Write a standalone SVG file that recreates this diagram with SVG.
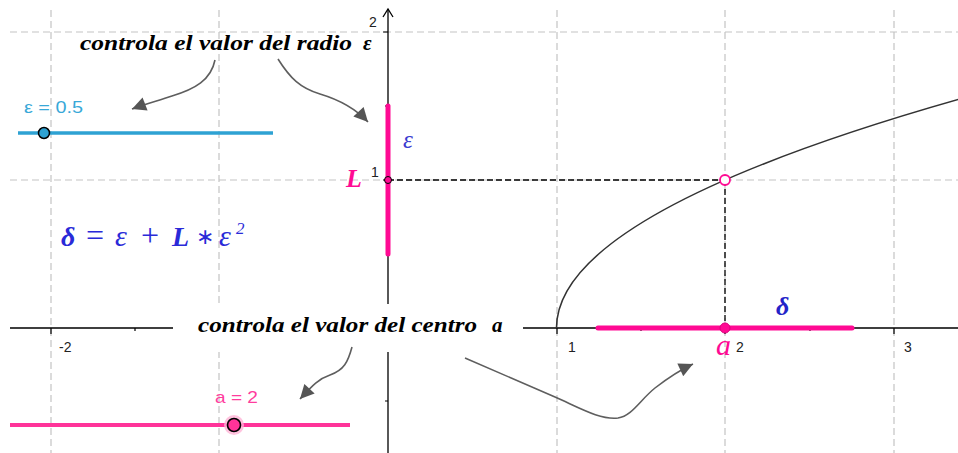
<svg xmlns="http://www.w3.org/2000/svg" width="958" height="453" viewBox="0 0 958 453">
<style>
.grid{stroke:#c4c4c4;stroke-width:1.2;stroke-dasharray:7 4;fill:none}
.axis{stroke:#000;stroke-width:1.3;fill:none}
.tick{stroke:#000;stroke-width:1.2}
.guide{stroke:#000;stroke-width:1.3;stroke-dasharray:6 3;fill:none}
.num{font-family:"Liberation Sans",Arial,sans-serif;font-size:14px;fill:#222}
.note{font-family:"Liberation Serif","Times New Roman",serif;font-size:21px;font-weight:bold;font-style:italic;fill:#000}
.math{font-family:"Liberation Serif","Times New Roman",serif;font-style:italic}
.b{font-weight:bold}
.up{font-style:normal}
.conn{stroke:#5e5e5e;stroke-width:1.6;fill:none}
.seg{stroke:#ff0a93;stroke-width:5;stroke-linecap:round;fill:none}
</style>
<defs>
<marker id="head" viewBox="0 0 10 10" refX="10" refY="5" markerUnits="userSpaceOnUse" markerWidth="15" markerHeight="14" orient="auto">
<path d="M0,0 L10,5 L0,10 z" fill="#555"/>
</marker>
</defs>
<rect width="958" height="453" fill="#fff"/>
<g id="grid">
<path class="grid" d="M10,32 H958 M10,180 H958 M51,10 V453 M219,10 V453 M557,10 V453 M725,10 V453 M894,10 V453"/>
</g>
<g id="axes">
<path class="axis" d="M10,328 H958 M388,9 V453"/>
<path class="axis" d="M383,17 L388,9 L393,17"/>
<path class="tick" d="M51,328 V334 M219,328 V334 M557,328 V334 M725,328 V334 M894,328 V334 M135,328 V331 M303,328 V331 M472,328 V331 M641,328 V331 M810,328 V331 M383,180 H388 M383,32 H388 M385,106 H388 M385,401 H388"/>
<text class="num" x="59" y="352">-2</text>
<text class="num" x="568" y="352">1</text>
<text class="num" x="736" y="352">2</text>
<text class="num" x="904" y="352">3</text>
<text class="num" x="371" y="177">1</text>
<text class="num" x="369" y="27">2</text>
</g>
<g id="curve">
<path d="M556.5,328 Q556.5,213.3 961.3,98.6" fill="none" stroke="#333" stroke-width="1.6"/>
</g>
<g id="guides">
<path class="guide" d="M388,180 H725 M725,180 V328"/>
</g>
<g id="epsilon-segment">
<path class="seg" d="M388,106 V254"/>
<text class="math" x="403" y="148" font-size="25" fill="#3a3ad0">ε</text>
</g>
<g id="delta-segment">
<path class="seg" d="M598,328 H852"/>
<text class="math b" x="776" y="315" font-size="26" fill="#2323c8">δ</text>
</g>
<g id="point-L">
<circle cx="388" cy="180" r="3.5" fill="#ff0a93" stroke="#000" stroke-width="1"/>
<text class="math b" x="346" y="187" font-size="26" fill="#ff0a93">L</text>
</g>
<g id="point-fa">
<circle cx="725" cy="180" r="5" fill="#fff" stroke="#ff0a93" stroke-width="1.8"/>
</g>
<g id="point-a">
<circle cx="725" cy="328" r="5" fill="#ff0a93" stroke="#e00080" stroke-width="1"/>
<text class="math" x="716" y="355" font-size="30" fill="#ff0a93">a</text>
</g>
<g id="formula">
<text class="math" y="246" font-size="28" fill="#2a2ad8"><tspan x="61" class="b">δ</tspan><tspan x="86" class="up" font-size="32">=</tspan><tspan x="115" font-size="30">ε</tspan><tspan x="141" class="up" font-size="32">+</tspan><tspan x="172" class="b">L</tspan><tspan x="196" y="244" class="up" font-size="22">∗</tspan><tspan x="219" y="246" font-size="30">ε</tspan><tspan x="236" y="234" font-size="17">2</tspan></text>
</g>
<g id="slider-epsilon">
<line x1="18" y1="133" x2="273" y2="133" stroke="#2ea2d3" stroke-width="3.5"/>
<circle cx="44" cy="133" r="5.5" fill="#2ea2d3" stroke="#000" stroke-width="1.5"/>
<text x="24" y="113" font-family="Liberation Sans,Arial,sans-serif" font-size="16" fill="#38a8d8" textLength="59" lengthAdjust="spacingAndGlyphs">ε = 0.5</text>
</g>
<g id="slider-a">
<line x1="10" y1="425" x2="350" y2="425" stroke="#ff3399" stroke-width="4"/>
<circle cx="234" cy="425" r="10" fill="#ffb3d6" opacity="0.8"/>
<circle cx="234" cy="425" r="6.5" fill="#ff3399" stroke="#000" stroke-width="1.6"/>
<text x="215" y="403" font-family="Liberation Sans,Arial,sans-serif" font-size="17" fill="#ff3d9e" textLength="43" lengthAdjust="spacingAndGlyphs">a = 2</text>
</g>
<g id="note-radio">
<text class="note" x="80" y="50" textLength="272" lengthAdjust="spacingAndGlyphs">controla el valor del radio</text>
<text class="note" x="363" y="50">ε</text>
</g>
<g id="note-centro">
<rect x="173" y="304" width="350" height="48" fill="#fff"/>
<text class="note" x="198" y="332" textLength="279" lengthAdjust="spacingAndGlyphs">controla el valor del centro</text>
<text class="note" x="492" y="332">a</text>
</g>
<g id="connectors">
<path class="conn" marker-end="url(#head)" d="M215,60 C211,80 195,89 172,96 C157,101 145,104 132,109"/>
<path class="conn" marker-end="url(#head)" d="M278,59 C290,78 300,88 320,94 C340,100 355,108 368,122"/>
<path class="conn" marker-end="url(#head)" d="M352,347 C348,362 344,370 330,375 C318,379 312,386 300,399"/>
<path class="conn" marker-end="url(#head)" d="M465,358 L555,397 C580,408 600,420 618,418 C632,416 640,400 655,388 C668,378 680,370 693,364"/>
</g>
</svg>
